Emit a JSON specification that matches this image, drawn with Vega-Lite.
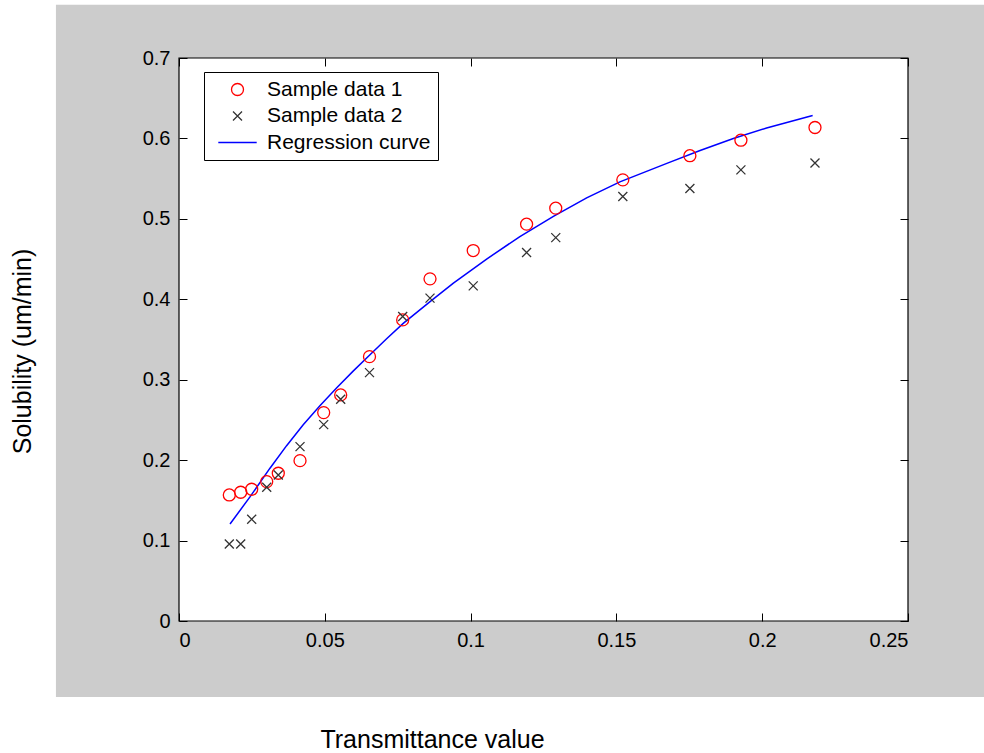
{
  "$schema": "https://vega.github.io/schema/vega-lite/v6.json",
  "width": 729,
  "height": 563,
  "autosize": {"type": "none"},
  "padding": {"left": 179, "top": 58, "right": 76, "bottom": 132},
  "background": "white",
  "config": {
    "view": {"stroke": null},
    "font": "Liberation Sans",
    "axis": {
      "labelFont": "Liberation Sans",
      "labelFontSize": 20,
      "labelColor": "#000000",
      "tickColor": "#000000",
      "tickSize": -8,
      "tickWidth": 1,
      "domain": false,
      "grid": false,
      "titleFont": "Liberation Sans",
      "titleFontSize": 25,
      "titleFontWeight": "normal",
      "titleColor": "#000000"
    }
  },
  "datasets": {
    "samples": [
      {"x": 0.01725, "y": 0.1567, "series": "Sample data 1"},
      {"x": 0.02116, "y": 0.1601, "series": "Sample data 1"},
      {"x": 0.02493, "y": 0.1638, "series": "Sample data 1"},
      {"x": 0.03008, "y": 0.1733, "series": "Sample data 1"},
      {"x": 0.03405, "y": 0.1837, "series": "Sample data 1"},
      {"x": 0.0415, "y": 0.1994, "series": "Sample data 1"},
      {"x": 0.04962, "y": 0.2591, "series": "Sample data 1"},
      {"x": 0.05545, "y": 0.2811, "series": "Sample data 1"},
      {"x": 0.06533, "y": 0.3287, "series": "Sample data 1"},
      {"x": 0.07671, "y": 0.3744, "series": "Sample data 1"},
      {"x": 0.08608, "y": 0.4254, "series": "Sample data 1"},
      {"x": 0.1009, "y": 0.4606, "series": "Sample data 1"},
      {"x": 0.1192, "y": 0.4934, "series": "Sample data 1"},
      {"x": 0.1292, "y": 0.5133, "series": "Sample data 1"},
      {"x": 0.1522, "y": 0.5485, "series": "Sample data 1"},
      {"x": 0.1752, "y": 0.5785, "series": "Sample data 1"},
      {"x": 0.1927, "y": 0.5978, "series": "Sample data 1"},
      {"x": 0.2181, "y": 0.6136, "series": "Sample data 1"},
      {"x": 0.01725, "y": 0.0958, "series": "Sample data 2"},
      {"x": 0.02116, "y": 0.0958, "series": "Sample data 2"},
      {"x": 0.02493, "y": 0.1265, "series": "Sample data 2"},
      {"x": 0.03008, "y": 0.1663, "series": "Sample data 2"},
      {"x": 0.03405, "y": 0.1816, "series": "Sample data 2"},
      {"x": 0.0415, "y": 0.2168, "series": "Sample data 2"},
      {"x": 0.04962, "y": 0.2442, "series": "Sample data 2"},
      {"x": 0.05545, "y": 0.2757, "series": "Sample data 2"},
      {"x": 0.06533, "y": 0.3088, "series": "Sample data 2"},
      {"x": 0.07671, "y": 0.3785, "series": "Sample data 2"},
      {"x": 0.08608, "y": 0.4014, "series": "Sample data 2"},
      {"x": 0.1009, "y": 0.4167, "series": "Sample data 2"},
      {"x": 0.1192, "y": 0.4581, "series": "Sample data 2"},
      {"x": 0.1292, "y": 0.4767, "series": "Sample data 2"},
      {"x": 0.1522, "y": 0.5277, "series": "Sample data 2"},
      {"x": 0.1752, "y": 0.5378, "series": "Sample data 2"},
      {"x": 0.1927, "y": 0.5609, "series": "Sample data 2"},
      {"x": 0.2181, "y": 0.5695, "series": "Sample data 2"}
    ],
    "curve": [
      {"x": 0.0175, "y": 0.1206},
      {"x": 0.0244, "y": 0.1546},
      {"x": 0.0312, "y": 0.19},
      {"x": 0.0369, "y": 0.218},
      {"x": 0.0426, "y": 0.244},
      {"x": 0.0484, "y": 0.268},
      {"x": 0.0541, "y": 0.29},
      {"x": 0.0598, "y": 0.311},
      {"x": 0.0655, "y": 0.331},
      {"x": 0.0712, "y": 0.351},
      {"x": 0.0769, "y": 0.37},
      {"x": 0.0861, "y": 0.397},
      {"x": 0.0941, "y": 0.42},
      {"x": 0.1055, "y": 0.45},
      {"x": 0.1169, "y": 0.478},
      {"x": 0.1284, "y": 0.503},
      {"x": 0.1398, "y": 0.526},
      {"x": 0.1512, "y": 0.546},
      {"x": 0.1673, "y": 0.569},
      {"x": 0.1787, "y": 0.585},
      {"x": 0.1901, "y": 0.6},
      {"x": 0.2015, "y": 0.613},
      {"x": 0.2173, "y": 0.6285}
    ]
  },
  "resolve": {"axis": {"x": "independent", "y": "independent"}},
  "layer": [
    {
      "data": {"values": [{}]},
      "mark": {"type": "rect", "color": "#cccccc", "clip": false},
      "encoding": {
        "x": {"datum": -0.0422, "type": "quantitative", "scale": {"domain": [0, 0.25], "nice": false, "zero": false}, "axis": null},
        "x2": {"datum": 0.2761},
        "y": {"datum": -0.0945, "type": "quantitative", "scale": {"domain": [0, 0.7], "nice": false, "zero": false}, "axis": null},
        "y2": {"datum": 0.7662}
      }
    },
    {
      "data": {"values": [{}]},
      "mark": {"type": "rect", "fill": "white", "stroke": "#000000", "strokeWidth": 1.2},
      "encoding": {
        "x": {"datum": 0, "type": "quantitative", "axis": {"orient": "top", "labels": false, "title": null, "zindex": 2, "values": [0, 0.05, 0.1, 0.15, 0.2, 0.25]}},
        "x2": {"datum": 0.25},
        "y": {"datum": 0, "type": "quantitative", "axis": {"orient": "right", "labels": false, "title": null, "zindex": 2, "values": [0, 0.1, 0.2, 0.3, 0.4, 0.5, 0.6, 0.7]}},
        "y2": {"datum": 0.7}
      }
    },
    {
      "data": {"name": "curve"},
      "mark": {"type": "line", "color": "#0000ff", "strokeWidth": 1.5},
      "encoding": {
        "x": {"field": "x", "type": "quantitative", "axis": null},
        "y": {"field": "y", "type": "quantitative", "axis": null}
      }
    },
    {
      "data": {"name": "samples"},
      "mark": {"type": "point", "filled": false, "size": 144, "strokeWidth": 1.3, "opacity": 1},
      "encoding": {
        "x": {
          "field": "x", "type": "quantitative",
          "axis": {"orient": "bottom", "zindex": 2, "values": [0, 0.05, 0.1, 0.15, 0.2, 0.25], "format": "~g", "labelPadding": 17, "title": "Transmittance value", "titleX": 253, "titleY": 126, "titleAlign": "center", "titleBaseline": "alphabetic"}
        },
        "y": {
          "field": "y", "type": "quantitative",
          "axis": {"orient": "left", "zindex": 2, "values": [0, 0.1, 0.2, 0.3, 0.4, 0.5, 0.6, 0.7], "format": "~g", "labelPadding": 17, "title": "Solubility (um/min)", "titleX": -149, "titleY": 293, "titleAlign": "center", "titleBaseline": "alphabetic", "titleAngle": -90}
        },
        "color": {
          "field": "series", "type": "nominal",
          "scale": {"domain": ["Sample data 1", "Sample data 2", "Regression curve"], "range": ["#ff0000", "#333333", "#0000ff"]},
          "legend": {
            "title": null, "orient": "none", "legendX": 25, "legendY": 14,
            "fillColor": "white", "strokeColor": "#000000", "padding": 7,
            "rowPadding": 4.5, "symbolOffset": 16, "labelOffset": 19, "labelLimit": 400,
            "labelFont": "Liberation Sans", "labelFontSize": 21, "labelColor": "#000000",
            "symbolSize": 144, "symbolStrokeWidth": 1.3, "labelExpr": "datum.label + '\u00a0\u00a0'"
          }
        },
        "shape": {
          "field": "series", "type": "nominal",
          "scale": {"domain": ["Sample data 1", "Sample data 2", "Regression curve"], "range": ["circle", "M-0.75,-0.75L0.75,0.75M-0.75,0.75L0.75,-0.75", "M-3.2,0L3.2,0"]},
          "legend": {
            "title": null, "orient": "none", "legendX": 25, "legendY": 14,
            "fillColor": "white", "strokeColor": "#000000", "padding": 7,
            "rowPadding": 4.5, "symbolOffset": 16, "labelOffset": 19, "labelLimit": 400,
            "labelFont": "Liberation Sans", "labelFontSize": 21, "labelColor": "#000000",
            "symbolSize": 144, "symbolStrokeWidth": 1.3, "labelExpr": "datum.label + '\u00a0\u00a0'"
          }
        }
      }
    }
  ]
}
